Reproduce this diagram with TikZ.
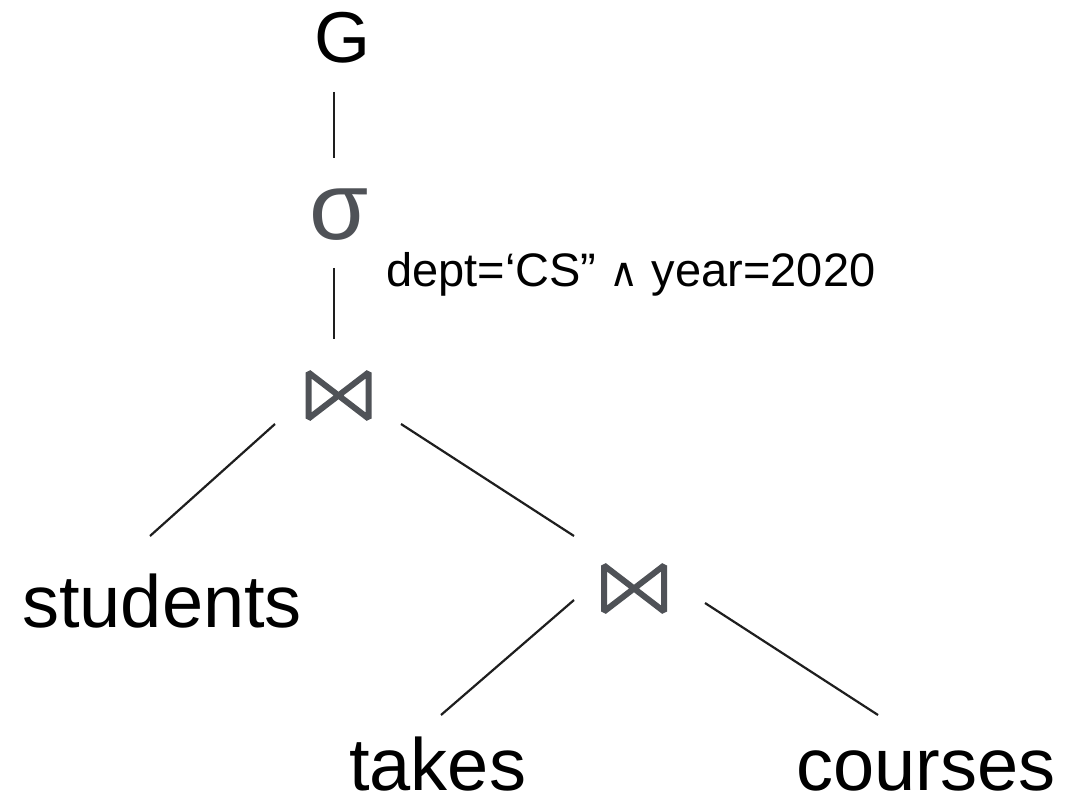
\documentclass[tikz,border=0pt]{standalone}
\usepackage{fontspec}
\setmainfont{Liberation Sans}
\newfontfamily\symfont{DejaVu Sans}
\definecolor{opgray}{HTML}{4F5257}
\definecolor{linecol}{HTML}{1E1E1E}
\tikzset{
  big/.style={font=\fontsize{74}{80}\selectfont, inner sep=0pt, anchor=base west},
  gtext/.style={font=\fontsize{72}{78}\selectfont, inner sep=0pt, anchor=base},
  sigmatext/.style={font=\fontsize{96}{100}\selectfont, text=opgray, inner sep=0pt, anchor=base},
  subtext/.style={font=\fontsize{47}{52}\selectfont, inner sep=0pt, anchor=base west},
  bowtie/.style={minimum width=66pt, minimum height=52pt, inner sep=0pt,
    path picture={
      \draw[opgray, line width=6pt, line join=bevel]
        ([shift={(3pt,-3pt)}]path picture bounding box.north west) --
        ([shift={(3pt,3pt)}]path picture bounding box.south west) --
        ([shift={(-3pt,-3pt)}]path picture bounding box.north east) --
        ([shift={(-3pt,3pt)}]path picture bounding box.south east) -- cycle;
    }},
  edge/.style={draw=linecol, line width=2.2pt}
}
\begin{document}
\begin{tikzpicture}[x=1pt,y=-1pt]
\useasboundingbox[fill=white] (0,0) rectangle (1083,799);
\node[gtext] (G) at (342,63) {G};
\node[sigmatext] (sigma) at (339,240) {σ};
\node[subtext] (cond) at (386,287) {dept=‘CS” {\symfont\fontsize{40}{44}\selectfont ∧} year=2020};
\node[bowtie] (j1) at (338.5,395.5) {};
\node[bowtie] (j2) at (634,588.5) {};
\node[big] (students) at (22,627) {students};
\node[big] (takes) at (349,790) {takes};
\node[big] (courses) at (796,790) {courses};
% connector ends
\coordinate (gA) at ([xshift=-8pt,yshift=-29pt]G.base);
\coordinate (gB) at ([xshift=-5pt,yshift=82pt]sigma.base);
\coordinate (sA) at ([xshift=-5pt,yshift=-28pt]sigma.base);
\coordinate (sB) at ([xshift=-4.5pt,yshift=56.5pt]j1.center);
\coordinate (j1L) at ([xshift=-63.5pt,yshift=-28.5pt]j1.center);
\coordinate (stA) at ([xshift=128pt,yshift=91pt]students.base west);
\coordinate (j1R) at ([xshift=62.5pt,yshift=-28.5pt]j1.center);
\coordinate (j2A) at ([xshift=-60pt,yshift=52.5pt]j2.center);
\coordinate (j2L) at ([xshift=-60pt,yshift=-11.5pt]j2.center);
\coordinate (tkA) at ([xshift=92pt,yshift=75pt]takes.base west);
\coordinate (j2R) at ([xshift=71pt,yshift=-14.5pt]j2.center);
\coordinate (coA) at ([xshift=82pt,yshift=75pt]courses.base west);
\draw[edge] (gA) -- (gB);
\draw[edge] (sA) -- (sB);
\draw[edge] (j1L) -- (stA);
\draw[edge] (j1R) -- (j2A);
\draw[edge] (j2L) -- (tkA);
\draw[edge] (j2R) -- (coA);
\end{tikzpicture}
\end{document}
